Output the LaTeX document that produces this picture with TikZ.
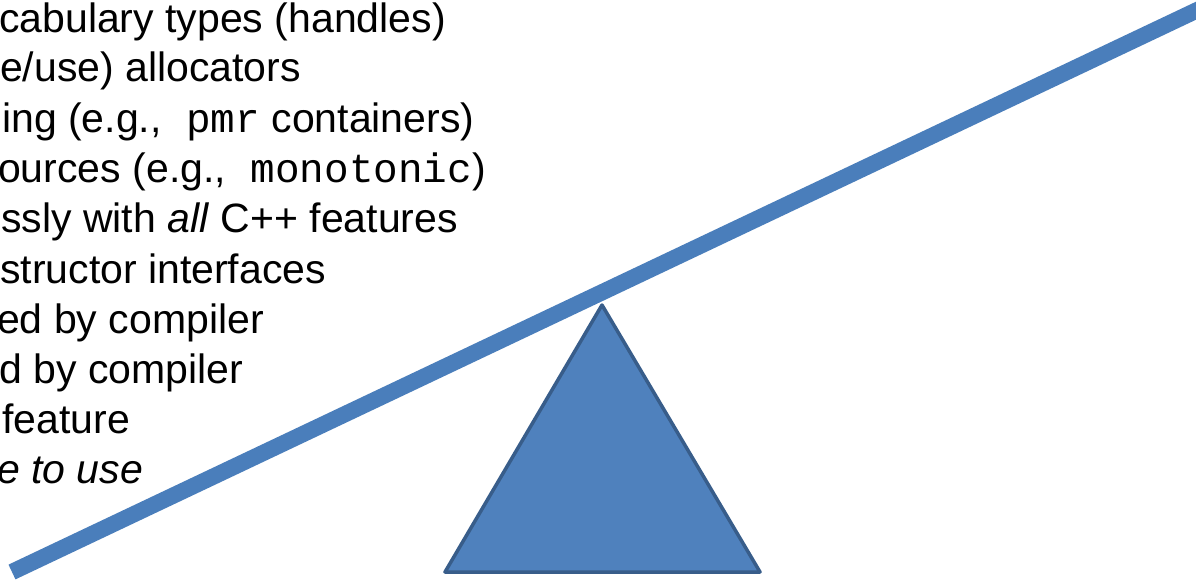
\documentclass[tikz,border=0pt]{standalone}
\usepackage{fontspec}
\setmainfont{Liberation Sans}
\setmonofont{Liberation Mono}
\definecolor{beamblue}{HTML}{4A7EBB}
\definecolor{trifill}{HTML}{4F81BD}
\definecolor{triedge}{HTML}{385D8A}
\begin{document}
\begin{tikzpicture}[x=1pt,y=-1pt,
  txt/.style={anchor=base west, inner sep=0pt, text=black, font=\fontsize{41}{50}\selectfont},
  beam/.style={draw=beamblue, line width=16.3pt, line cap=butt},
  fulcrum/.style={draw=triedge, fill=trifill, line width=3.5pt, line join=round}]
\useasboundingbox (0,0) rectangle (1196,580);
\clip (0,0) rectangle (1196,580);
\fill[white] (0,0) rectangle (1196,580);
% text lines
\node[txt] (l1) at (-1,33) {cabulary types (handles)};
\node[txt] (l2) at (0,82) {e/use) allocators};
\node[txt] (l3) at (2,133) {ing (e.g.,\texttt{ pmr} containers)};
\node[txt] (l4) at (-2,183) {ources (e.g.,\texttt{ monotonic})};
\node[txt] (l5) at (1,233) {ssly with \textit{all} C++ features};
\node[txt] (l6) at (0,283) {structor interfaces};
\node[txt] (l7) at (-3,333) {ed by compiler};
\node[txt] (l8) at (-1,383) {d by compiler};
\node[txt] (l9) at (2,433) {feature};
\node[txt] (l10) at (-3,483) {\textit{e to use}};
% fulcrum
\coordinate (apex) at (602,305);
\coordinate (baseL) at (445,572);
\coordinate (baseR) at (760,572);
\draw[fulcrum] (apex) -- (baseL) -- (baseR) -- cycle;
% beam
\coordinate (beamL) at (12,572);
\coordinate (beamR) at (1230,-5.4);
\draw[beam] (beamL) -- (beamR);
\end{tikzpicture}
\end{document}
